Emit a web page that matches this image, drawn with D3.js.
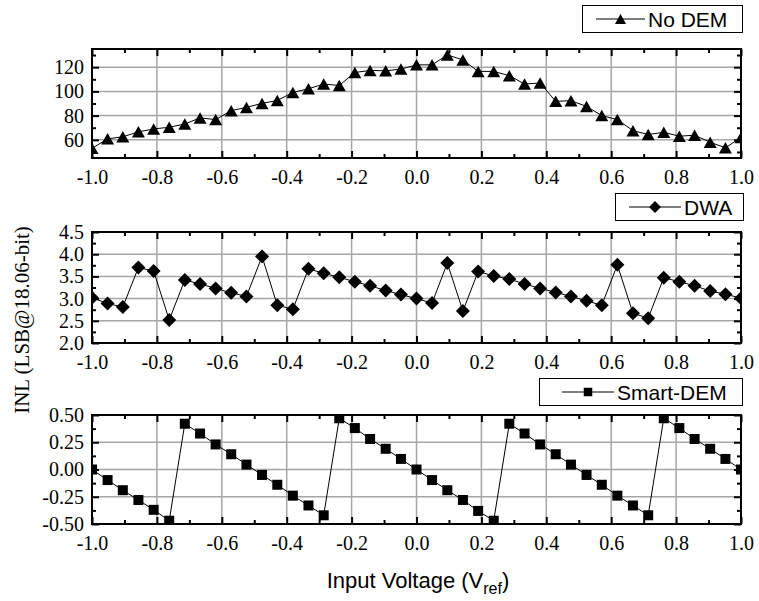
<!DOCTYPE html>
<html><head><meta charset="utf-8">
<script src="https://cdn.jsdelivr.net/npm/d3@7"></script>
<style>body{margin:0;background:#fff}</style>
</head><body><svg id="c" width="759" height="601" xmlns="http://www.w3.org/2000/svg"></svg>
<script>
// ---------- DATA ----------
const xValues = [-1.000,-0.952,-0.905,-0.857,-0.810,-0.762,-0.714,-0.667,-0.619,-0.571,-0.524,-0.476,-0.429,-0.381,-0.333,-0.286,-0.238,-0.190,-0.143,-0.095,-0.048,
  0.000,0.048,0.095,0.143,0.190,0.238,0.286,0.333,0.381,0.429,0.476,0.524,0.571,0.619,0.667,0.714,0.762,0.810,0.857,0.905,0.952,1.000];
const noDem = [53,60.8,62.5,66.6,69,70.4,73.1,78.1,76.7,84.1,86.8,90.1,92.5,99.1,102.2,106,104.9,115.6,117.3,117,118.4,
  121.9,121.9,130.1,126,116.5,116.5,113,106.1,106.9,91.8,92.3,87.6,80,76.7,67.6,64.4,66.2,63,63.8,58,53.4,62];
const dwa = [3.02,2.89,2.81,3.70,3.62,2.52,3.42,3.33,3.23,3.13,3.05,3.95,2.85,2.76,3.67,3.57,3.48,3.38,3.29,3.18,3.09,
  3.00,2.90,3.80,2.72,3.61,3.51,3.44,3.33,3.23,3.14,3.05,2.95,2.85,3.76,2.67,2.56,3.47,3.38,3.29,3.17,3.10,3.01];
const smartDem = [0.00,-0.097,-0.19,-0.28,-0.37,-0.47,0.42,0.33,0.23,0.14,0.045,-0.05,-0.14,-0.24,-0.33,-0.42,0.47,0.38,0.28,0.19,0.097,
  0.00,-0.097,-0.19,-0.28,-0.38,-0.47,0.42,0.33,0.23,0.14,0.045,-0.05,-0.14,-0.24,-0.33,-0.42,0.47,0.38,0.28,0.19,0.097,0.00];

const seriesNames = ["No DEM","DWA","Smart-DEM"];
const xTicks = [-1.0,-0.8,-0.6,-0.4,-0.2,0.0,0.2,0.4,0.6,0.8,1.0];
const xTickLabels = ["-1.0","-0.8","-0.6","-0.4","-0.2","0.0","0.2","0.4","0.6","0.8","1.0"];
const xMinorTicks = [-0.9,-0.7,-0.5,-0.3,-0.1,0.1,0.3,0.5,0.7,0.9];

const noDemDomain = [45,135];
const noDemTicks = [60,80,100,120];
const noDemTickLabels = ["60","80","100","120"];
const noDemMinor = [50,70,90,110,130];

const dwaDomain = [2.0,4.5];
const dwaTicks = [2.0,2.5,3.0,3.5,4.0,4.5];
const dwaTickLabels = ["2.0","2.5","3.0","3.5","4.0","4.5"];
const dwaMinor = [2.25,2.75,3.25,3.75,4.25];

const smartDomain = [-0.5,0.5];
const smartTicks = [-0.5,-0.25,0,0.25,0.5];
const smartTickLabels = ["-0.50","-0.25","0.00","0.25","0.50"];
const smartMinor = [-0.375,-0.125,0.125,0.375];

const yTitle = "INL (LSB@18.06-bit)";
const xTitle = "Input Voltage (V";
const xTitleSub = "ref";

// ---------- LAYOUT ----------
const svg = d3.select("#c");
const X0 = 92, X1 = 741;
const x = d3.scaleLinear().domain([-1,1]).range([X0, X1]);
const serif = "'Liberation Serif','Times New Roman',serif";
const sans = "'Liberation Sans',Arial,sans-serif";

const shapes = {
  triangle: "M0,-5.75L6.5,5.75L-6.5,5.75Z",
  diamond: "M0,-7L7,0L0,7L-7,0Z",
  square: "M-5,-5H5V5H-5Z"
};

const panels = [
  {vals: noDem, domain: noDemDomain, ticks: noDemTicks, labels: noDemTickLabels, minor: noDemMinor, top: 49, bottom: 158, shape: "triangle",
   legend: {x0: 582, x1: 742, y0: 5, y1: 32, l0: 596, l1: 645, tx: 648}},
  {vals: dwa, domain: dwaDomain, ticks: dwaTicks, labels: dwaTickLabels, minor: dwaMinor, top: 232, bottom: 343, shape: "diamond",
   legend: {x0: 615, x1: 743, y0: 193, y1: 220, l0: 629, l1: 681, tx: 684}},
  {vals: smartDem, domain: smartDomain, ticks: smartTicks, labels: smartTickLabels, minor: smartMinor, top: 415, bottom: 524, shape: "square",
   legend: {x0: 539, x1: 742, y0: 378, y1: 405, l0: 562, l1: 614, tx: 617}}
];

panels.forEach((p, pi) => {
  const y = d3.scaleLinear().domain(p.domain).range([p.bottom, p.top]);
  const g = svg.append("g");

  // grid
  const gx = xTicks.filter(v => v > -1 && v < 1);
  g.selectAll(".gv").data(gx).join("line")
    .attr("x1", d => x(d)).attr("x2", d => x(d)).attr("y1", p.top).attr("y2", p.bottom)
    .attr("stroke", "#a6a6a6").attr("stroke-width", 1.5);
  const gy = p.ticks.filter(v => v > p.domain[0] && v < p.domain[1]);
  g.selectAll(".gh").data(gy).join("line")
    .attr("x1", X0).attr("x2", X1).attr("y1", d => y(d)).attr("y2", d => y(d))
    .attr("stroke", "#a6a6a6").attr("stroke-width", 1.5);

  // line + markers
  const pts = xValues.map((xv, i) => [xv, p.vals[i]]);
  const clipId = "clip" + pi;
  svg.append("clipPath").attr("id", clipId).append("rect")
    .attr("x", X0 - 1).attr("y", p.top - 1).attr("width", X1 - X0 + 2).attr("height", p.bottom - p.top + 2);
  const dg = g.append("g").attr("clip-path", `url(#${clipId})`);
  dg.append("path").datum(pts)
    .attr("d", d3.line().x(d => x(d[0])).y(d => y(d[1])))
    .attr("fill", "none").attr("stroke", "#000").attr("stroke-width", 1);
  dg.selectAll(".m").data(pts).join("path")
    .attr("d", shapes[p.shape])
    .attr("transform", d => `translate(${x(d[0])},${y(d[1])})`)
    .attr("fill", "#000");

  // axes
  const axStyle = sel => {
    sel.select(".domain").remove();
    sel.selectAll(".tick line").attr("stroke", "#000").attr("stroke-width", 2);
    sel.selectAll("text").attr("font-family", serif).attr("font-size", 20).attr("fill", "#000");
  };
  g.append("g").attr("transform", `translate(0,${p.bottom})`)
    .call(d3.axisBottom(x).tickValues(xTicks).tickFormat((d, i) => xTickLabels[i]).tickSizeInner(-7).tickSizeOuter(0).tickPadding(12))
    .call(axStyle);
  g.append("g").attr("transform", `translate(0,${p.bottom})`)
    .call(d3.axisBottom(x).tickValues(xMinorTicks).tickFormat("").tickSizeInner(-4).tickSizeOuter(0)).call(axStyle);
  g.append("g").attr("transform", `translate(0,${p.top})`)
    .call(d3.axisTop(x).tickValues(xTicks).tickFormat("").tickSizeInner(-7).tickSizeOuter(0)).call(axStyle);
  g.append("g").attr("transform", `translate(0,${p.top})`)
    .call(d3.axisTop(x).tickValues(xMinorTicks).tickFormat("").tickSizeInner(-4).tickSizeOuter(0)).call(axStyle);
  g.append("g").attr("transform", `translate(${X0},0)`)
    .call(d3.axisLeft(y).tickValues(p.ticks).tickFormat((d, i) => p.labels[i]).tickSizeInner(-7).tickSizeOuter(0).tickPadding(8))
    .call(axStyle);
  g.append("g").attr("transform", `translate(${X0},0)`)
    .call(d3.axisLeft(y).tickValues(p.minor).tickFormat("").tickSizeInner(-4).tickSizeOuter(0)).call(axStyle);
  g.append("g").attr("transform", `translate(${X1},0)`)
    .call(d3.axisRight(y).tickValues(p.ticks).tickFormat("").tickSizeInner(-7).tickSizeOuter(0)).call(axStyle);
  g.append("g").attr("transform", `translate(${X1},0)`)
    .call(d3.axisRight(y).tickValues(p.minor).tickFormat("").tickSizeInner(-4).tickSizeOuter(0)).call(axStyle);

  // frame
  g.append("rect").attr("x", X0).attr("y", p.top).attr("width", X1 - X0).attr("height", p.bottom - p.top)
    .attr("fill", "none").attr("stroke", "#000").attr("stroke-width", 2);

  // legend
  const L = p.legend;
  const lg = svg.append("g");
  lg.append("rect").attr("x", L.x0 + 0.5).attr("y", L.y0 + 0.5).attr("width", L.x1 - L.x0).attr("height", L.y1 - L.y0)
    .attr("fill", "#fff").attr("stroke", "#000").attr("stroke-width", 1);
  const cy = (L.y0 + L.y1) / 2 + 0.5;
  lg.append("line").attr("x1", L.l0).attr("x2", L.l1).attr("y1", cy).attr("y2", cy)
    .attr("stroke", "#000").attr("stroke-width", 1.2);
  lg.append("path").attr("d", shapes[p.shape]).attr("transform", `translate(${(L.l0 + L.l1) / 2},${cy}) scale(0.85)`).attr("fill", "#000");
  lg.append("text").attr("x", L.tx).attr("y", cy).attr("dy", "0.36em")
    .attr("font-family", sans).attr("font-size", 21).text(seriesNames[pi]);
});

// titles
svg.append("text").attr("transform", "translate(29,320) rotate(-90)")
  .attr("text-anchor", "middle").attr("font-family", serif).attr("font-size", 21).text(yTitle);
const xt = svg.append("text").attr("x", 418).attr("y", 588).attr("text-anchor", "middle")
  .attr("font-family", sans).attr("font-size", 22).text(xTitle);
xt.append("tspan").attr("dy", 6).attr("font-size", 16).text(xTitleSub);
xt.append("tspan").attr("dy", -6).text(")");
</script></body></html>
